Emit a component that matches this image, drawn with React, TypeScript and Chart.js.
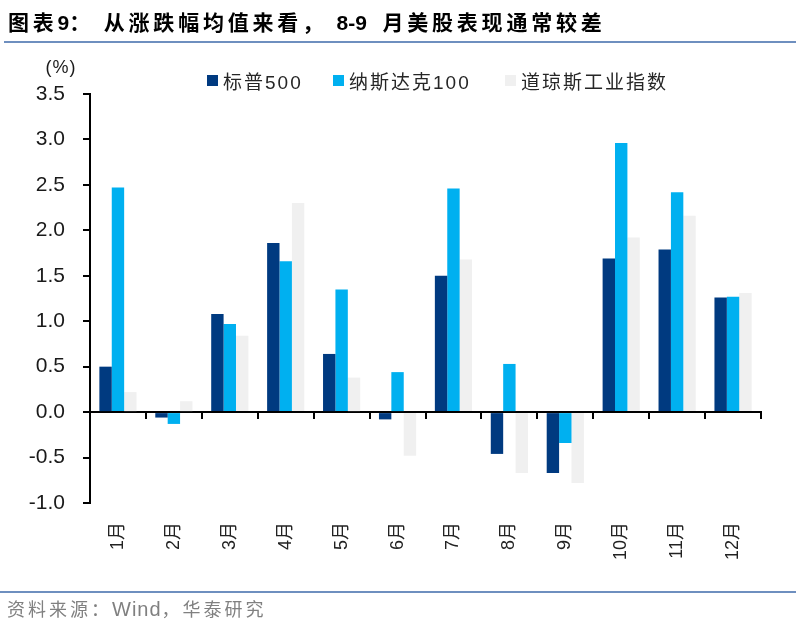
import React, { useEffect, useRef } from "react";
import { Chart, registerables } from "chart.js";

Chart.register(...registerables);

const months = ["1月", "2月", "3月", "4月", "5月", "6月", "7月", "8月", "9月", "10月", "11月", "12月"];
const sp500 = [0.5, -0.06, 1.08, 1.86, 0.64, -0.08, 1.5, -0.46, -0.67, 1.69, 1.79, 1.26];
const nasdaq100 = [2.47, -0.13, 0.97, 1.66, 1.35, 0.44, 2.46, 0.53, -0.34, 2.96, 2.42, 1.27];
const dowJones = [0.22, 0.12, 0.84, 2.3, 0.38, -0.48, 1.68, -0.67, -0.78, 1.92, 2.16, 1.31];
const seriesNames = ["标普500", "纳斯达克100", "道琼斯工业指数"];
const seriesColors = ["#003A80", "#00B0F0", "#F0F0F0"];
const yMin = -1;
const yMax = 3.5;
const yStep = 0.5;

const FONT = "'Liberation Sans', 'Noto Sans CJK SC', Arial, sans-serif";

export default function App() {
  const ref = useRef<HTMLCanvasElement | null>(null);

  useEffect(() => {
    if (!ref.current) return;
    const chart = new Chart(ref.current, {
      type: "bar",
      data: {
        labels: months,
        datasets: [sp500, nasdaq100, dowJones].map((d, i) => ({
          label: seriesNames[i],
          data: d,
          backgroundColor: seriesColors[i],
          borderWidth: 0,
          categoryPercentage: 0.665,
          barPercentage: 1,
          xAxisID: "x",
          yAxisID: "y",
        })),
      },
      options: {
        responsive: false,
        animation: false,
        layout: { padding: { top: 94, left: 0, right: 35, bottom: 0 } },
        plugins: {
          legend: { display: false },
          title: { display: false },
          tooltip: { enabled: false },
        },
        scales: {
          x: {
            type: "category",
            position: "bottom",
            offset: true,
            grid: { display: false, drawTicks: false, offset: true },
            border: { display: false },
            ticks: {
              autoSkip: false,
              minRotation: 90,
              maxRotation: 90,
              padding: 19,
              color: "#222",
              font: { family: FONT, size: 18 },
            },
            afterFit: (s: any) => {
              s.height = 123;
            },
          },
          x2: {
            type: "category",
            axis: "x",
            labels: months,
            position: { y: 0 },
            offset: true,
            grid: {
              offset: true,
              drawOnChartArea: false,
              drawTicks: true,
              tickLength: 6,
              color: "#000",
              lineWidth: 2,
            },
            border: { display: true, color: "#000", width: 2 },
            ticks: { display: false },
          },
          y: {
            type: "linear",
            position: "left",
            min: yMin,
            max: yMax,
            grid: {
              drawOnChartArea: false,
              drawTicks: true,
              tickLength: 7,
              color: "#000",
              lineWidth: 2,
            },
            border: { display: true, color: "#000", width: 2 },
            ticks: {
              stepSize: yStep,
              padding: 18,
              color: "#1a1a1a",
              font: { family: FONT, size: 21 },
              callback: (v: any) => Number(v).toFixed(1),
            },
            afterFit: (s: any) => {
              s.width = 90;
            },
          },
        },
      } as any,
    });
    return () => chart.destroy();
  }, []);

  const legendX = [207, 333, 505];
  const tight = { letterSpacing: 0 };

  return (
    <div style={{ position: "absolute", left: 0, top: 0, width: 796, height: 626, background: "#fff", overflow: "hidden" }}>
      <canvas ref={ref} width={796} height={626} style={{ position: "absolute", left: 0, top: 0, display: "block" }} />
      <div
        style={{
          position: "absolute",
          left: 8,
          top: 11,
          fontFamily: FONT,
          fontWeight: "bold",
          fontSize: 21,
          lineHeight: "24px",
          letterSpacing: 3.8,
          color: "#000",
          whiteSpace: "nowrap",
        }}
      >
        图表<span style={tight}>9</span>：&nbsp;从涨跌幅均值来看，&nbsp;<span style={tight}>8-9 </span>&nbsp;月美股表现通常较差
      </div>
      <div style={{ position: "absolute", left: 4, top: 41, width: 792, height: 2, background: "#6E8FBF" }} />
      <div
        style={{
          position: "absolute",
          left: 26,
          top: 58,
          width: 70,
          textAlign: "center",
          fontFamily: FONT,
          fontSize: 18,
          lineHeight: "18px",
          letterSpacing: 1,
          color: "#1a1a1a",
        }}
      >
        (%)
      </div>
      {seriesNames.map((n, i) => (
        <div
          key={n}
          style={{
            position: "absolute",
            left: legendX[i],
            top: 68,
            height: 24,
            display: "flex",
            alignItems: "center",
            fontFamily: FONT,
            fontSize: 19,
            letterSpacing: 2,
            color: "#262626",
            whiteSpace: "nowrap",
          }}
        >
          <span style={{ display: "inline-block", width: 11, height: 11, background: seriesColors[i], marginRight: 5 }} />
          <span>{n}</span>
        </div>
      ))}
      <div style={{ position: "absolute", left: 0, top: 591, width: 796, height: 2, background: "#6E8FBF" }} />
      <div
        style={{
          position: "absolute",
          left: 7,
          top: 598,
          fontFamily: FONT,
          fontSize: 18,
          lineHeight: "22px",
          letterSpacing: 3,
          color: "#808080",
          whiteSpace: "nowrap",
        }}
      >
        资料来源：<span style={{ letterSpacing: 1, fontSize: 20 }}>Wind</span>，华泰研究
      </div>
    </div>
  );
}
